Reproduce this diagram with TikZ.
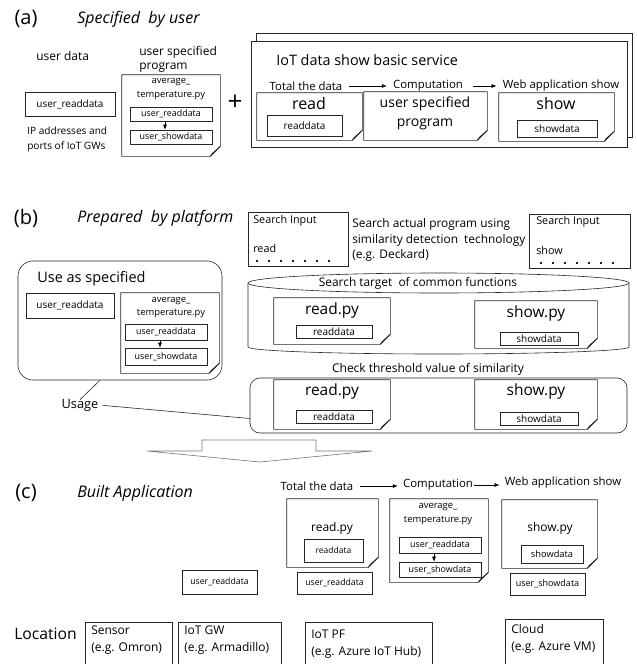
\documentclass[tikz,border=0pt]{standalone}
\usepackage{fontspec}
\setmainfont{Open Sans}
\usetikzlibrary{arrows.meta}

\tikzset{
  hd/.style={inner sep=0pt, font=\fontsize{20}{22}\selectfont},
  ttl/.style={inner sep=0pt, anchor=west, font=\fontsize{16}{18}\selectfont\itshape},
  txt/.style={inner sep=0pt, font=\fontsize{11.4}{14}\selectfont},
  bigtxt/.style={inner sep=0pt, font=\fontsize{15.5}{19}\selectfont},
  box/.style={draw=black!85, inner sep=0pt, font=\fontsize{8.9}{10}\selectfont},
  doc/.style={inner sep=0pt},
  flow/.style={-{Latex[length=5pt,width=4pt]}},
  every path/.style={line width=0.6pt},
}
% page-like shape with a folded corner round a named node
\newcommand{\docfold}[1]{%
  \draw[draw=black!85, fill=white] (#1.north west) -- (#1.north east) -- ([yshift=10pt]#1.south east)
    -- ([xshift=-10pt]#1.south east) -- (#1.south west) -- cycle;
  \filldraw[draw=black!85, fill=black!20] ([yshift=10pt]#1.south east) -- ([xshift=-10pt]#1.south east)
    -- ([xshift=-8pt,yshift=3pt]#1.south east) -- cycle;}

\begin{document}
\begin{tikzpicture}[x=1pt,y=-1pt]
\useasboundingbox (0,0) rectangle (637,664);

% (a)
\node[hd] (alab) at (26,19) {(a)};
\node[ttl] (atitle) at (77,19) {Specified\ \ by user};
\node[txt, anchor=west, font=\fontsize{12}{14}\selectfont] (udata) at (36,56) {user data};
\node[txt, anchor=west, align=left, font=\fontsize{12}{14}\selectfont] (uprog) at (139,59) {user specified\\program};
\node[box, minimum width=90, minimum height=24, font=\fontsize{10}{11}\selectfont] (ureadA) at (70,104) {user\_readdata};
\node[txt, anchor=west, align=left, font=\fontsize{10.1}{15}\selectfont] (ipnote) at (27,139) {IP addresses and\\ports of IoT GWs};
\node[doc, minimum width=98, minimum height=81] (progA) at (171,115.5) {};
\docfold{progA}
\node[txt, align=center, font=\fontsize{9.4}{14}\selectfont] (progAname) at (171,89.5) {average\_\\temperature.py};
\node[box, minimum width=82, minimum height=14] (ureadB) at (171,114) {user\_readdata};
\node[box, minimum width=82, minimum height=14] (ushowB) at (171,137) {user\_showdata};
\draw[flow] ([xshift=-6pt]ureadB.south) -- ([xshift=-6pt]ushowB.north);
\node[inner sep=0pt, font=\fontsize{26}{26}\selectfont] (plus) at (235,103) {+};

\node[draw=black!85, minimum width=376, minimum height=104] (svcback) at (444,85) {};
\node[draw=black!85, fill=white, minimum width=376, minimum height=106] (svc) at (439,94) {};
\node[anchor=west, inner sep=0pt, font=\fontsize{14.4}{16}\selectfont] (svctitle) at (276,60) {IoT data show basic service};
\node[txt] (stepA1) at (306,86) {Total the data};
\node[txt] (stepA2) at (428,86) {Computation};
\node[txt] (stepA3) at (561,86) {Web application show};
\draw[flow, shorten <=6pt, shorten >=6pt] (stepA1.east) -- (stepA2.west);
\draw[flow, shorten <=10pt, shorten >=6pt] (stepA2.east) -- (stepA3.west);
\node[doc, minimum width=105, minimum height=47] (readA) at (309.5,116.5) {};
\docfold{readA}
\node[bigtxt, font=\fontsize{16}{19}\selectfont] (readAname) at (309,103) {read};
\node[box, minimum width=75, minimum height=21, font=\fontsize{10}{11}\selectfont] (readdataA) at (304.5,125.5) {readdata};
\node[doc, minimum width=123, minimum height=48] (progB) at (425.5,116) {};
\docfold{progB}
\node[txt, align=center, font=\fontsize{14}{19}\selectfont] (progBname) at (425,113) {user specified\\program};
\node[doc, minimum width=115, minimum height=48] (showA) at (556.5,117) {};
\docfold{showA}
\node[bigtxt, font=\fontsize{16}{19}\selectfont] (showAname) at (556,103) {show};
\node[box, minimum width=80, minimum height=17, font=\fontsize{10}{11}\selectfont] (showdataA) at (557,128.5) {showdata};

% (b)
\node[hd] (blab) at (26,218) {(b)};
\node[ttl] (btitle) at (77,218) {Prepared\ \ by platform};
\node[draw=black!85, minimum width=100, minimum height=54] (inread) at (298,239) {};
\node[txt, anchor=west, font=\fontsize{10.8}{12}\selectfont] (inreadT) at (253,221) {Search Input};
\node[txt, anchor=west, font=\fontsize{10.8}{12}\selectfont] (inreadK) at (253,248) {read};
\foreach \x in {257,269,...,329}
\filldraw [black] (\x,261) circle (0.8pt);
\node[txt, anchor=west, align=left, font=\fontsize{11.9}{15.5}\selectfont] (searchnote) at (352,240) {Search actual program using\\similarity detection\ \ technology\\(e.g. Deckard)};
\node[draw=black!85, minimum width=101, minimum height=54] (inshow) at (579.5,241) {};
\node[txt, anchor=west, font=\fontsize{10.8}{12}\selectfont] (inshowT) at (536,222) {Search Input};
\node[txt, anchor=west, font=\fontsize{10.8}{12}\selectfont] (inshowK) at (536,250) {show};
\foreach \x in {541,553,...,613}
\filldraw [black] (\x,263) circle (0.8pt);

\draw[black!85] (248,283) -- (248,347) arc[start angle=180, end angle=0, x radius=190.5, y radius=7] -- (629,283);
\draw[black!85, fill=white] (438.5,283) ellipse [x radius=190.5, y radius=10];
\node[txt, font=\fontsize{11.9}{13}\selectfont] (cylT) at (418,283) {Search target\ \ of common functions};
\node[doc, minimum width=116, minimum height=46] (readB) at (332,321) {};
\docfold{readB}
\node[bigtxt] (readBname) at (332,310) {read.py};
\node[box, minimum width=76, minimum height=13, font=\fontsize{10}{11}\selectfont] (readdataB) at (334,331.5) {readdata};
\node[doc, minimum width=122, minimum height=47] (showB) at (536,324.5) {};
\docfold{showB}
\node[bigtxt] (showBname) at (536,313) {show.py};
\node[box, minimum width=78, minimum height=13, font=\fontsize{10}{11}\selectfont] (showdataB) at (539,338.5) {showdata};

\node[txt, font=\fontsize{12}{13}\selectfont] (chkT) at (428,369) {Check threshold value of similarity};
\node[draw=black!85, rounded corners=10pt, minimum width=377, minimum height=55] (simbox) at (438.5,405.5) {};
\node[doc, minimum width=116, minimum height=49] (readC) at (332,404.5) {};
\docfold{readC}
\node[bigtxt] (readCname) at (332,391) {read.py};
\node[box, minimum width=76, minimum height=13, font=\fontsize{10}{11}\selectfont] (readdataC) at (334,416.5) {readdata};
\node[doc, minimum width=122, minimum height=49] (showC) at (536,404.5) {};
\docfold{showC}
\node[bigtxt] (showCname) at (536,391) {show.py};
\node[box, minimum width=78, minimum height=13, font=\fontsize{10}{11}\selectfont] (showdataC) at (539,418.5) {showdata};

\node[draw=black!85, rounded corners=15pt, minimum width=204, minimum height=119] (usebox) at (120,320.5) {};
\node[anchor=west, inner sep=0pt, font=\fontsize{14.5}{17}\selectfont] (useT) at (37,279) {Use as specified};
\node[box, minimum width=88, minimum height=25, font=\fontsize{10}{11}\selectfont] (ureadC) at (70,305.5) {user\_readdata};
\node[doc, minimum width=98, minimum height=80] (progC) at (170,333) {};
\docfold{progC}
\node[txt, align=center, font=\fontsize{9.4}{13}\selectfont] (progCname) at (171,307.5) {average\_\\temperature.py};
\node[box, minimum width=82, minimum height=16] (ureadD) at (166,332) {user\_readdata};
\node[box, minimum width=82, minimum height=17] (ushowD) at (166,356.5) {user\_showdata};
\draw[flow] ([xshift=-6pt]ureadD.south) -- ([xshift=-6pt]ushowD.north);
\node[txt, font=\fontsize{12.8}{13}\selectfont] (usage) at (80,405) {Usage};
\draw[black!85] ([yshift=-1pt]usage.north) -- ([xshift=-20pt]usebox.south);
\draw[black!85, shorten <=4pt] (usage.east) -- ([yshift=-13pt]simbox.west);

\draw[black!55] (202,440) -- (316,440) -- (316,451) -- (372,451) -- (260,462) -- (147,451) -- (202,451) -- cycle;

% (c)
\node[hd] (clab) at (26,493) {(c)};
\node[ttl] (ctitle) at (77,493) {Built Application};
\node[txt] (stepC1) at (317,486) {Total the data};
\node[txt] (stepC2) at (438,485) {Computation};
\node[txt] (stepC3) at (563,483) {Web application show};
\draw[flow, shorten <=6pt, shorten >=5pt] (stepC1.east) -- (stepC1.east -| stepC2.west);
\draw[flow, shorten <=1pt, shorten >=5pt] (stepC2.east) -- (stepC2.east -| stepC3.west);
\node[doc, minimum width=91, minimum height=68] (readD) at (332.5,533) {};
\docfold{readD}
\node[txt, font=\fontsize{12}{14}\selectfont] (readDname) at (332,528) {read.py};
\node[box, minimum width=59, minimum height=23, font=\fontsize{8.5}{10}\selectfont] (readdataD) at (333.5,550.5) {readdata};
\node[box, minimum width=75, minimum height=22, font=\fontsize{8.7}{10}\selectfont] (ureadE) at (334.5,583) {user\_readdata};
\node[doc, minimum width=98, minimum height=83] (progD) at (439,540.5) {};
\docfold{progD}
\node[txt, align=center, font=\fontsize{9.4}{14}\selectfont] (progDname) at (438,514.5) {average\_\\temperature.py};
\node[box, minimum width=82, minimum height=16] (ureadF) at (440,545) {user\_readdata};
\node[box, minimum width=82, minimum height=15] (ushowF) at (440,569.5) {user\_showdata};
\draw[flow] ([xshift=-6pt]ureadF.south) -- ([xshift=-6pt]ushowF.north);
\node[doc, minimum width=95, minimum height=68] (showD) at (549.5,534) {};
\docfold{showD}
\node[txt, font=\fontsize{12}{14}\selectfont] (showDname) at (550,528) {show.py};
\node[box, minimum width=62, minimum height=18, font=\fontsize{9.3}{10}\selectfont] (showdataD) at (552,554) {showdata};
\node[box, minimum width=75, minimum height=22, font=\fontsize{9}{10}\selectfont] (ushowG) at (547.5,584) {user\_showdata};
\node[box, minimum width=75, minimum height=24, font=\fontsize{8.7}{10}\selectfont] (ureadH) at (219.5,582) {user\_readdata};

% location row
\node[anchor=west, inner sep=0pt, font=\fontsize{15.7}{18}\selectfont] (loc) at (14,634) {Location};
\node[draw=black!85, anchor=north west, minimum width=87, minimum height=46] (sensor) at (85,622) {};
\node[txt, anchor=north west, align=left, font=\fontsize{12}{17}\selectfont] (sensorT) at ([xshift=6pt,yshift=-4pt]sensor.north west) {Sensor\\(e.g. Omron)};
\node[draw=black!85, anchor=north west, minimum width=103, minimum height=46] (gw) at (178,622) {};
\node[txt, anchor=north west, align=left, font=\fontsize{12}{17}\selectfont] (gwT) at ([xshift=6pt,yshift=-4pt]gw.north west) {IoT GW\\(e.g. Armadillo)};
\node[draw=black!85, anchor=north west, minimum width=127, minimum height=46] (pf) at (305,622) {};
\node[txt, anchor=north west, align=left, font=\fontsize{12}{17}\selectfont] (pfT) at ([xshift=6pt,yshift=-8pt]pf.north west) {IoT PF\\(e.g. Azure IoT Hub)};
\node[draw=black!85, anchor=north west, minimum width=98, minimum height=48] (cloud) at (505,619) {};
\node[txt, anchor=north west, align=left, font=\fontsize{12}{17}\selectfont] (cloudT) at ([xshift=6pt,yshift=-5pt]cloud.north west) {Cloud\\(e.g. Azure VM)};
\end{tikzpicture}
\end{document}
